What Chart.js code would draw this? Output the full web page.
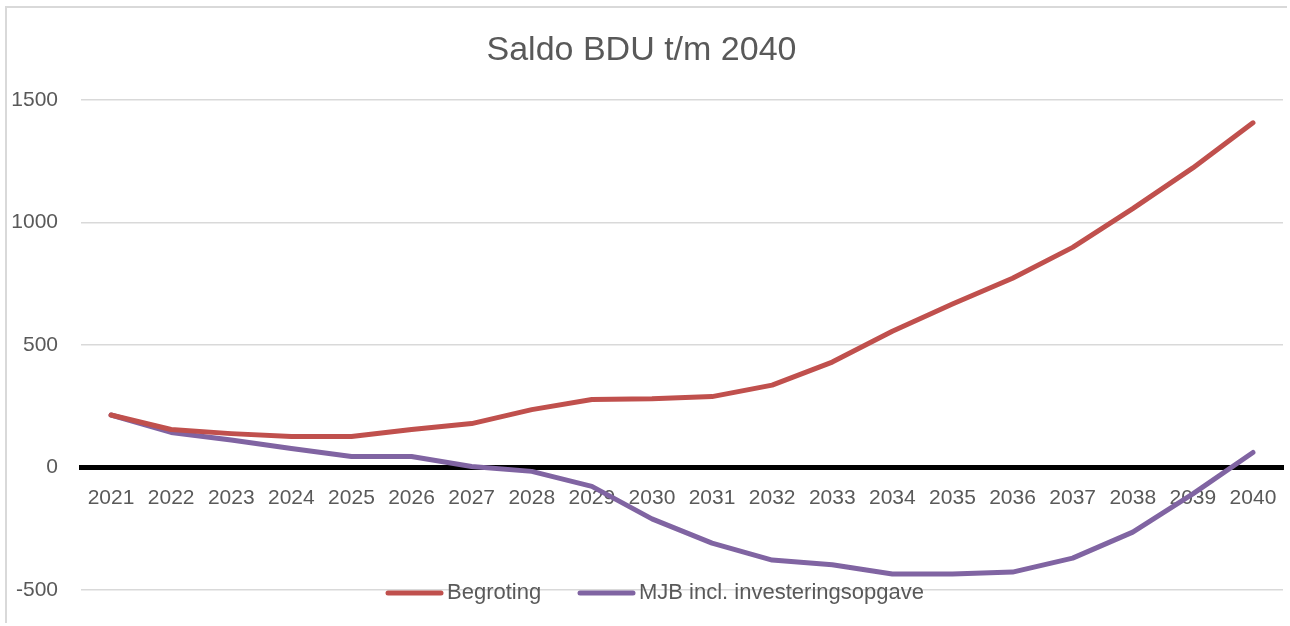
<!DOCTYPE html>
<html lang="nl">
<head>
  <meta charset="UTF-8" />
  <title>Saldo BDU t/m 2040</title>
  <style>
    * { margin: 0; padding: 0; }
    body { background: #fff; width: 1290px; height: 626px; overflow: hidden; position: relative; }
    .chartBox { position: absolute; left: 0; top: 0; width: 1290px; height: 626px; }
    .frame {
      position: absolute; left: 5px; top: 6px; width: 1280px; height: 615px;
      border-left: 2px solid #d9d9d9; border-top: 2px solid #d9d9d9;
      pointer-events: none;
    }
  </style>
</head>
<body>
  <div class="chartBox"><canvas id="myChart" width="1290" height="626"></canvas></div>
  <div class="frame"></div>
  <script src="https://cdn.jsdelivr.net/npm/chart.js@4/dist/chart.umd.min.js"></script>
  <script>
    const years = ["2021", "2022", "2023", "2024", "2025", "2026", "2027", "2028", "2029", "2030",
      "2031", "2032", "2033", "2034", "2035", "2036", "2037", "2038", "2039", "2040"];

    const begroting = [214, 155, 138, 126, 126, 155, 179, 236, 277, 280,
      289, 336, 430, 556, 667, 772, 898, 1056, 1222, 1406];

    const mjb = [214, 143, 112, 77, 45, 45, 4, -16, -77, -210,
      -309, -378, -397, -435, -435, -427, -370, -264, -108, 61];

    const yTicks = [-500, 0, 500, 1000, 1500];

    const textColor = "#595959";
    const fontFamily = "'Liberation Sans', Arial, sans-serif";

    // legend drawn by hand so it can sit on the -500 gridline like in Excel
    const legendPlugin = {
      id: "bottomLegend",
      afterDraw(chart) {
        const c = chart.ctx;
        const items = [
          { label: "Begroting", color: "#c0504d", x: 388 },
          { label: "MJB incl. investeringsopgave", color: "#8064a2", x: 580 }
        ];
        const y = 593;
        c.save();
        c.lineCap = "round";
        c.lineWidth = 5;
        c.font = "22px " + fontFamily;
        c.textBaseline = "middle";
        c.fillStyle = textColor;
        items.forEach(it => {
          c.strokeStyle = it.color;
          c.beginPath();
          c.moveTo(it.x, y);
          c.lineTo(it.x + 53, y);
          c.stroke();
          c.fillText(it.label, it.x + 59, y);
        });
        c.restore();
      }
    };

    const data = {
      labels: years,
      datasets: [
        {
          label: "Begroting",
          data: begroting,
          borderColor: "#c0504d",
          backgroundColor: "#c0504d",
          borderWidth: 5,
          pointRadius: 0,
          tension: 0,
          borderCapStyle: "round",
          borderJoinStyle: "round"
        },
        {
          label: "MJB incl. investeringsopgave",
          data: mjb,
          borderColor: "#8064a2",
          backgroundColor: "#8064a2",
          borderWidth: 5,
          pointRadius: 0,
          tension: 0,
          borderCapStyle: "round",
          borderJoinStyle: "round"
        }
      ]
    };

    const options = {
      responsive: false,
      animation: false,
      layout: { padding: { left: 0, right: 7, top: 0, bottom: 36 } },
      plugins: {
        legend: { display: false },
        tooltip: { enabled: false },
        title: {
          display: true,
          text: "Saldo BDU t/m 2040",
          color: textColor,
          font: { family: fontFamily, size: 34, weight: "normal" },
          padding: { top: 30, bottom: 29 }
        }
      },
      scales: {
        x: {
          position: { y: 0 },
          offset: true,
          afterFit: (scale) => { scale.paddingLeft = 0; scale.paddingRight = 0; },
          grid: { display: false, drawTicks: false },
          border: { display: true, color: "#000", width: 5 },
          ticks: {
            color: textColor,
            padding: 18,
            maxRotation: 0,
            autoSkip: false,
            font: { family: fontFamily, size: 21 }
          }
        },
        y: {
          min: -500,
          max: 1500,
          afterFit: (scale) => { scale.width = 81; },
          afterBuildTicks: (scale) => { scale.ticks = yTicks.map(v => ({ value: v })); },
          grid: {
            drawTicks: false,
            lineWidth: 1.5,
            color: (ctx) => (ctx.tick && ctx.tick.value === 0) ? "rgba(0,0,0,0)" : "#d9d9d9"
          },
          border: { display: false },
          ticks: {
            color: textColor,
            padding: 23,
            font: { family: fontFamily, size: 21 },
            callback: (v) => String(v)
          }
        }
      }
    };

    const ctx = document.getElementById("myChart").getContext("2d");
    const myChart = new Chart(ctx, {
      type: "line",
      data: data,
      options: options,
      plugins: [legendPlugin]
    });
  </script>
</body>
</html>
